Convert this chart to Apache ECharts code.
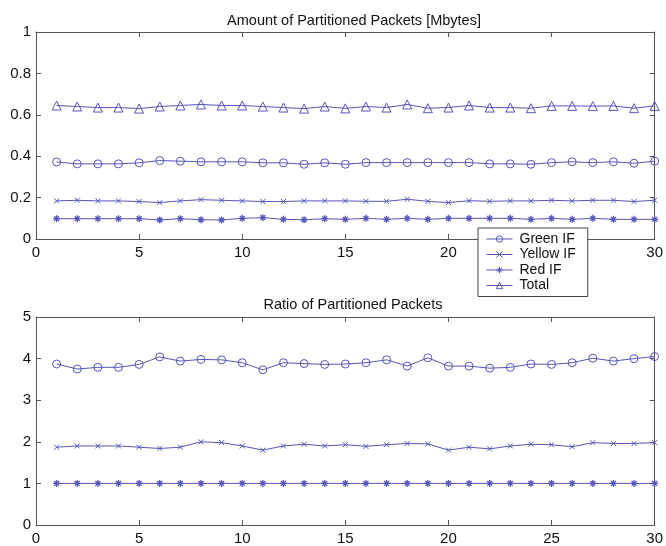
<!DOCTYPE html>
<html>
<head>
<meta charset="utf-8">
<style>
  html, body { margin: 0; padding: 0; background: #fff; }
  #chart { width: 666px; height: 546px; }
</style>
<script src="https://cdn.jsdelivr.net/npm/echarts@6/dist/echarts.min.js"></script>
</head>
<body>
<div id="chart"></div>
<script>
const runs = [1, 2, 3, 4, 5, 6, 7, 8, 9, 10, 11, 12, 13, 14, 15,
  16, 17, 18, 19, 20, 21, 22, 23, 24, 25, 26, 27, 28, 29, 30];

// top panel: amount [Mbytes]
const amountGreen = [0.372, 0.363, 0.363, 0.363, 0.368, 0.379, 0.376, 0.373, 0.373, 0.373,
  0.368, 0.368, 0.361, 0.368, 0.361, 0.369, 0.369, 0.369, 0.369, 0.369,
  0.369, 0.363, 0.363, 0.361, 0.369, 0.373, 0.369, 0.373, 0.366, 0.376];
const amountYellow = [0.184, 0.187, 0.184, 0.184, 0.181, 0.176, 0.184, 0.190, 0.187, 0.184,
  0.181, 0.181, 0.184, 0.184, 0.184, 0.182, 0.182, 0.192, 0.182, 0.176,
  0.185, 0.182, 0.184, 0.184, 0.187, 0.184, 0.187, 0.187, 0.181, 0.187];
const amountRed = [0.098, 0.098, 0.098, 0.098, 0.098, 0.092, 0.098, 0.093, 0.092, 0.100,
  0.103, 0.095, 0.093, 0.098, 0.095, 0.100, 0.095, 0.100, 0.095, 0.100,
  0.100, 0.100, 0.100, 0.095, 0.100, 0.095, 0.100, 0.095, 0.095, 0.095];
const amountTotal = [0.645, 0.640, 0.635, 0.635, 0.630, 0.640, 0.645, 0.650, 0.645, 0.645,
  0.640, 0.635, 0.630, 0.640, 0.631, 0.640, 0.635, 0.650, 0.632, 0.635,
  0.645, 0.635, 0.635, 0.632, 0.643, 0.643, 0.642, 0.643, 0.632, 0.643];

// bottom panel: ratio
const ratioGreen = [3.87, 3.75, 3.79, 3.79, 3.86, 4.04, 3.94, 3.98, 3.97, 3.90,
  3.73, 3.90, 3.88, 3.86, 3.87, 3.90, 3.97, 3.82, 4.02, 3.82,
  3.82, 3.77, 3.79, 3.87, 3.86, 3.90, 4.01, 3.94, 4.00, 4.05];
const ratioYellow = [1.87, 1.90, 1.90, 1.90, 1.87, 1.84, 1.87, 2.00, 1.98, 1.90,
  1.80, 1.90, 1.94, 1.90, 1.93, 1.89, 1.93, 1.96, 1.95, 1.80,
  1.87, 1.83, 1.90, 1.94, 1.93, 1.88, 1.98, 1.96, 1.96, 1.98];
const ratioRed = [1, 1, 1, 1, 1, 1, 1, 1, 1, 1, 1, 1, 1, 1, 1,
  1, 1, 1, 1, 1, 1, 1, 1, 1, 1, 1, 1, 1, 1, 1];

const seriesNames = ['Green IF', 'Yellow IF', 'Red IF', 'Total'];

const LINE = '#5555bb';
const AXIS = '#555';
const FONT = '"Liberation Sans", Arial, sans-serif';

// matlab-like markers: o, x, *, ^ (drawn as outlines)
const symbols = {
  'Green IF': { symbol: 'path://M10,5A5,5 0 1 1 0,5A5,5 0 1 1 10,5Z', size: 8, width: 1 },
  'Yellow IF': { symbol: 'path://M0,0L10,10M10,0L0,10', size: 5, width: 1 },
  'Red IF': { symbol: 'path://M5,0L5,10M0,5L10,5M1.5,1.5L8.5,8.5M8.5,1.5L1.5,8.5', size: 7, width: 1.3 },
  'Total': { symbol: 'path://M5,0L10,9L0,9Z', size: 9, width: 1 },
};

const pairs = (vals) => runs.map((r, i) => [r, vals[i]]);

const makeSeries = (name, vals, axisIdx) => {
  const s = symbols[name];
  return {
    name,
    type: 'line',
    xAxisIndex: axisIdx,
    yAxisIndex: axisIdx,
    data: pairs(vals),
    symbol: s.symbol,
    symbolSize: s.size,
    showAllSymbol: true,
    lineStyle: { color: LINE, width: 1 },
    itemStyle: { color: 'rgba(255,255,255,0)', borderColor: LINE, borderWidth: s.width },
    emphasis: { disabled: true },
  };
};

const xAxisPair = (gridIndex) => {
  const base = {
    type: 'value', gridIndex, min: 0, max: 30, interval: 5,
    axisLine: { show: true, onZero: false, lineStyle: { color: AXIS, width: 1 } },
    axisTick: { show: true, inside: true, length: 5, lineStyle: { color: AXIS } },
    splitLine: { show: false },
  };
  return [
    { ...base, position: 'bottom',
      axisLabel: { color: '#111', fontSize: 15, fontFamily: FONT, margin: 6 } },
    { ...base, position: 'top', axisLabel: { show: false } },
  ];
};

const yAxisPair = (gridIndex, max, interval) => {
  const base = {
    type: 'value', gridIndex, min: 0, max, interval,
    axisLine: { show: true, onZero: false, lineStyle: { color: AXIS, width: 1 } },
    axisTick: { show: true, inside: true, length: 5, lineStyle: { color: AXIS } },
    splitLine: { show: false },
  };
  return [
    { ...base, position: 'left',
      axisLabel: { color: '#111', fontSize: 15, fontFamily: FONT, margin: 5 } },
    { ...base, position: 'right', axisLabel: { show: false } },
  ];
};

const chart = echarts.init(document.getElementById('chart'), null, { renderer: 'canvas' });

chart.setOption({
  animation: false,
  backgroundColor: '#fff',
  title: [
    {
      text: 'Amount of Partitioned Packets [Mbytes]',
      left: 349, top: 8, textAlign: 'center',
      textStyle: { fontSize: 14.5, fontWeight: 'normal', color: '#111', fontFamily: FONT },
    },
    {
      text: 'Ratio of Partitioned Packets',
      left: 348, top: 292, textAlign: 'center',
      textStyle: { fontSize: 14.5, fontWeight: 'normal', color: '#111', fontFamily: FONT },
    },
  ],
  grid: [
    { left: 36, top: 32, width: 626, height: 207 },
    { left: 36, top: 317, width: 626, height: 209 },
  ],
  xAxis: [...xAxisPair(0), ...xAxisPair(1)],
  yAxis: [...yAxisPair(0, 1, 0.2), ...yAxisPair(1, 5, 1)],
  legend: {
    data: seriesNames,
    orient: 'vertical',
    left: 478,
    top: 228,
    padding: [4, 12, 4, 8],
    itemGap: 1.5,
    itemWidth: 26,
    itemHeight: 8,
    backgroundColor: '#fff',
    borderColor: '#444',
    borderWidth: 1,
    z: 10,
    itemStyle: { borderWidth: 1 },
    lineStyle: { width: 1 },
    textStyle: { color: '#111', fontSize: 14, fontFamily: FONT, padding: [0, 0, 0, 2] },
  },
  series: [
    makeSeries('Green IF', amountGreen, 0),
    makeSeries('Yellow IF', amountYellow, 0),
    makeSeries('Red IF', amountRed, 0),
    makeSeries('Total', amountTotal, 0),
    makeSeries('Green IF', ratioGreen, 2),
    makeSeries('Yellow IF', ratioYellow, 2),
    makeSeries('Red IF', ratioRed, 2),
  ],
});
</script>
</body>
</html>
